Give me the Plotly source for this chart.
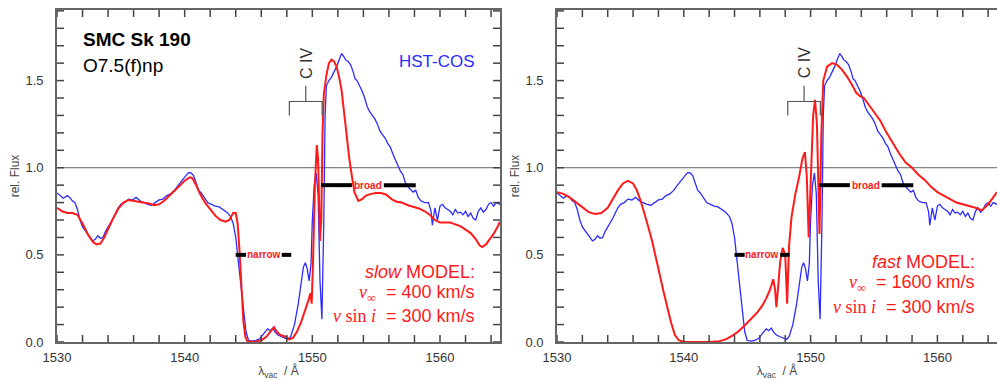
import plotly.graph_objects as go

# ---------------- data ----------------
obs_wl = [1530.0,1530.3,1530.5,1530.8,1531.0,1531.2,1531.4,1531.6,1531.8,1532.0,1532.2,1532.4,1532.6,1532.8,
          1533.0,1533.2,1533.4,1533.6,1533.8,1534.0,1534.2,1534.4,1534.6,1534.8,1535.0,1535.3,1535.6,1535.9,
          1536.2,1536.5,1536.8,1537.1,1537.4,1537.7,1538.0,1538.3,1538.6,1538.9,1539.2,1539.5,1539.8,1540.1,
          1540.3,1540.5,1540.7,1540.9,1541.1,1541.3,1541.5,1541.8,1542.1,1542.4,1542.7,1543.0,1543.3,1543.6,
          1543.8,1544.0,1544.2,1544.4,1544.6,1544.8,1545.0,1545.3,1545.6,1545.9,1546.1,1546.3,1546.5,1546.7,
          1546.9,1547.1,1547.3,1547.6,1547.9,1548.1,1548.3,1548.6,1548.9,1549.1,1549.3,1549.45,1549.6,1549.75,
          1549.9,1550.0,1550.15,1550.3,1550.45,1550.6,1550.75,1550.9,1551.0,1551.1,1551.3,1551.5,1551.7,1551.9,
          1552.1,1552.3,1552.45,1552.6,1552.8,1553.0,1553.2,1553.35,1553.5,1553.7,1553.9,1554.1,1554.3,1554.5,
          1554.7,1554.9,1555.1,1555.3,1555.5,1555.7,1555.9,1556.1,1556.3,1556.5,1556.7,1556.9,1557.1,1557.3,
          1557.5,1557.7,1557.9,1558.1,1558.3,1558.5,1558.8,1559.1,1559.3,1559.4,1559.5,1559.6,1559.8,1560.0,
          1560.2,1560.4,1560.6,1560.8,1561.0,1561.2,1561.4,1561.6,1561.8,1562.0,1562.2,1562.4,1562.6,1562.8,
          1563.0,1563.2,1563.4,1563.6,1563.8,1564.0,1564.2,1564.4,1564.7]
obs_flux = [0.855,0.84,0.825,0.84,0.83,0.81,0.80,0.76,0.70,0.66,0.64,0.62,0.60,0.58,
            0.59,0.61,0.595,0.60,0.635,0.66,0.68,0.71,0.74,0.77,0.79,0.80,0.82,0.815,
            0.83,0.81,0.80,0.79,0.785,0.80,0.815,0.82,0.84,0.85,0.87,0.90,0.93,0.955,
            0.972,0.97,0.955,0.91,0.87,0.855,0.83,0.80,0.79,0.78,0.775,0.76,0.745,0.72,
            0.68,0.60,0.47,0.32,0.18,0.06,0.01,0.005,0.01,0.02,0.04,0.06,0.075,0.065,
            0.08,0.055,0.04,0.03,0.02,0.015,0.03,0.10,0.22,0.33,0.43,0.455,0.42,0.35,
            0.45,0.70,0.90,0.97,0.85,0.35,0.13,0.70,1.30,1.47,1.50,1.52,1.55,1.58,
            1.62,1.655,1.64,1.62,1.61,1.59,1.55,1.51,1.50,1.47,1.44,1.40,1.35,1.32,
            1.30,1.28,1.25,1.21,1.19,1.17,1.14,1.12,1.08,1.045,1.02,0.98,0.96,0.91,
            0.89,0.875,0.86,0.87,0.83,0.81,0.80,0.80,0.75,0.67,0.72,0.77,0.70,0.78,
            0.79,0.77,0.76,0.75,0.73,0.76,0.74,0.745,0.73,0.75,0.72,0.74,0.71,0.70,
            0.75,0.77,0.745,0.76,0.79,0.80,0.78,0.80,0.79]

slow_wl = [1530.0,1530.4,1530.8,1531.2,1531.6,1532.0,1532.4,1532.8,1533.1,1533.4,1533.7,1534.0,1534.4,1534.8,
           1535.2,1535.6,1536.0,1536.4,1536.8,1537.2,1537.6,1538.0,1538.4,1538.8,1539.2,1539.6,1540.0,1540.4,
           1540.6,1540.9,1541.2,1541.6,1542.0,1542.4,1542.8,1543.2,1543.5,1543.8,1544.0,1544.15,1544.3,1544.45,
           1544.6,1544.75,1544.9,1545.5,1546.0,1546.4,1546.8,1547.0,1547.2,1547.5,1547.9,1548.2,1548.5,1548.8,
           1549.1,1549.4,1549.7,1549.85,1549.95,1550.05,1550.2,1550.35,1550.45,1550.6,1550.7,1550.8,1550.9,1551.1,
           1551.3,1551.5,1551.7,1551.9,1552.1,1552.3,1552.5,1552.7,1552.9,1553.1,1553.3,1553.6,1553.9,1554.2,
           1554.6,1555.0,1555.4,1555.8,1556.2,1556.6,1557.0,1557.5,1558.0,1558.4,1558.8,1559.2,1559.6,1560.0,
           1560.4,1560.8,1561.2,1561.6,1562.0,1562.4,1562.8,1563.1,1563.3,1563.6,1563.9,1564.2,1564.5,1564.7]
slow_flux = [0.77,0.75,0.74,0.74,0.73,0.68,0.62,0.575,0.56,0.565,0.60,0.65,0.71,0.765,
             0.80,0.815,0.81,0.805,0.80,0.795,0.785,0.79,0.81,0.84,0.87,0.90,0.925,0.945,
             0.94,0.90,0.85,0.80,0.76,0.725,0.70,0.69,0.70,0.74,0.74,0.68,0.52,0.30,
             0.12,0.03,0.005,0.0,0.01,0.03,0.07,0.085,0.06,0.04,0.03,0.015,0.025,0.06,
             0.11,0.17,0.24,0.28,0.22,0.45,0.90,1.13,1.05,0.58,0.70,1.20,1.42,1.53,
             1.60,1.62,1.61,1.58,1.52,1.44,1.30,1.17,1.05,0.95,0.86,0.81,0.82,0.84,
             0.85,0.855,0.855,0.845,0.82,0.805,0.80,0.785,0.775,0.765,0.75,0.73,0.70,0.685,
             0.685,0.685,0.675,0.665,0.645,0.625,0.59,0.555,0.545,0.56,0.59,0.62,0.66,0.69]

fast_wl = [1530.0,1530.5,1531.0,1531.5,1532.0,1532.5,1533.0,1533.5,1534.0,1534.4,1534.8,1535.2,1535.6,1536.0,
           1536.3,1536.6,1536.9,1537.2,1537.5,1537.8,1538.1,1538.4,1538.7,1539.0,1539.3,1539.6,1540.0,1541.0,
           1542.0,1542.8,1543.3,1543.8,1544.3,1544.8,1545.3,1545.8,1546.2,1546.5,1546.8,1547.05,1547.2,1547.3,
           1547.4,1547.6,1547.8,1548.0,1548.15,1548.3,1548.5,1548.8,1549.1,1549.35,1549.55,1549.7,1549.85,1550.0,
           1550.2,1550.35,1550.5,1550.7,1550.85,1551.0,1551.3,1551.7,1552.1,1552.5,1552.9,1553.3,1553.6,1553.9,
           1554.2,1554.6,1555.0,1555.5,1556.0,1556.5,1557.0,1557.5,1558.0,1558.5,1559.0,1559.5,1560.0,1560.5,
           1561.0,1561.5,1562.0,1562.5,1563.0,1563.5,1564.0,1564.4,1564.7]
fast_flux = [0.86,0.85,0.83,0.80,0.77,0.745,0.735,0.74,0.77,0.82,0.87,0.91,0.925,0.91,
             0.87,0.81,0.74,0.66,0.58,0.48,0.38,0.29,0.20,0.11,0.04,0.01,0.0,0.0,
             0.0,0.005,0.015,0.035,0.06,0.095,0.13,0.17,0.21,0.25,0.30,0.36,0.30,0.20,
             0.28,0.46,0.54,0.50,0.22,0.55,0.72,0.85,0.95,1.05,1.09,0.95,0.60,0.90,
             1.30,1.39,1.25,0.62,1.20,1.50,1.58,1.60,1.59,1.56,1.52,1.47,1.43,1.41,
             1.40,1.36,1.32,1.27,1.20,1.14,1.08,1.03,1.00,0.96,0.93,0.89,0.86,0.84,
             0.82,0.80,0.79,0.78,0.77,0.755,0.79,0.83,0.86]

# tick positions / labels
x_tick_vals = list(range(1530, 1566, 2))
x_tick_text = [str(v) if v % 10 == 0 else "" for v in x_tick_vals]
y_tick_vals = [i / 10 for i in range(0, 20)]
y_tick_text = [f"{v:.1f}" if i % 5 == 0 else "" for i, v in enumerate(y_tick_vals)]

# C IV doublet rest wavelengths (bracket) and label bar segments
civ_lines = [1548.2, 1550.77]
narrow_bars = [(1544.0, 1544.8), (1547.6, 1548.35)]
broad_bars = [(1550.7, 1553.1), (1555.6, 1558.1)]

# ---------------- figure ----------------
RED = "#ff1a1a"
BLUE = "#2b2bff"
TICK = "#444444"
FONT = "Liberation Sans, Arial, sans-serif"
SERIF = "Liberation Serif"
TL = 7  # tick length in px

fig = go.Figure()

panels = [("x", "y", slow_wl, slow_flux), ("x2", "y2", fast_wl, fast_flux)]
for xa, ya, mwl, mfl in panels:
    fig.add_trace(go.Scatter(x=obs_wl, y=obs_flux, mode="lines", xaxis=xa, yaxis=ya,
                             line=dict(color=BLUE, width=1.3), showlegend=False, hoverinfo="skip"))
    fig.add_trace(go.Scatter(x=mwl, y=mfl, mode="lines", xaxis=xa, yaxis=ya,
                             line=dict(color=RED, width=2), showlegend=False, hoverinfo="skip"))
    for a, b in narrow_bars:
        fig.add_trace(go.Scatter(x=[a, b], y=[0.5, 0.5], mode="lines", xaxis=xa, yaxis=ya,
                                 line=dict(color="black", width=4), showlegend=False, hoverinfo="skip"))
    for a, b in broad_bars:
        fig.add_trace(go.Scatter(x=[a, b], y=[0.9, 0.9], mode="lines", xaxis=xa, yaxis=ya,
                                 line=dict(color="black", width=4), showlegend=False, hoverinfo="skip"))
    c = 0.5 * (civ_lines[0] + civ_lines[1])
    fig.add_trace(go.Scatter(x=[civ_lines[0], civ_lines[0], civ_lines[1], civ_lines[1], None, c, c],
                             y=[1.30, 1.38, 1.38, 1.30, None, 1.38, 1.47], mode="lines",
                             xaxis=xa, yaxis=ya, line=dict(color="#555555", width=1.2),
                             showlegend=False, hoverinfo="skip"))

shapes = []
for xa, ya in [("x", "y"), ("x2", "y2")]:
    shapes.append(dict(type="line", xref=xa + " domain", yref=ya, x0=0, x1=1, y0=1.0, y1=1.0,
                       line=dict(color="#666666", width=1), layer="below"))

# inward tick marks drawn from the tick arrays (pixel-sized)
tick_line = dict(color=TICK, width=1.5)
for xa, ya, right_side in [("x", "y", True), ("x2", "y2", False)]:
    for v in x_tick_vals:
        shapes.append(dict(type="line", xref=xa, yref=ya + " domain", ysizemode="pixel", yanchor=0,
                           x0=v, x1=v, y0=0, y1=TL, line=tick_line, layer="above"))
        shapes.append(dict(type="line", xref=xa, yref=ya + " domain", ysizemode="pixel", yanchor=1,
                           x0=v, x1=v, y0=0, y1=-TL, line=tick_line, layer="above"))
    for v in y_tick_vals:
        shapes.append(dict(type="line", xref=xa + " domain", yref=ya, xsizemode="pixel", xanchor=0,
                           x0=0, x1=TL, y0=v, y1=v, line=tick_line, layer="above"))
        if right_side:
            shapes.append(dict(type="line", xref=xa + " domain", yref=ya, xsizemode="pixel", xanchor=1,
                               x0=0, x1=-TL, y0=v, y1=v, line=tick_line, layer="above"))

ann = []
for xa, ya in [("x", "y"), ("x2", "y2")]:
    c = 0.5 * (civ_lines[0] + civ_lines[1])
    ann.append(dict(xref=xa, yref=ya, x=c, y=1.60, text="C IV", textangle=-90, showarrow=False,
                    font=dict(family=FONT, size=16, color="#333333")))
    ann.append(dict(xref=xa, yref=ya, x=1546.2, y=0.5, text="<b>narrow</b>", showarrow=False,
                    font=dict(family=FONT, size=10, color=RED)))
    ann.append(dict(xref=xa, yref=ya, x=1554.35, y=0.9, text="<b>broad</b>", showarrow=False,
                    font=dict(family=FONT, size=10, color=RED)))

ann.append(dict(xref="x domain", yref="y domain", x=0.054, y=0.91, xanchor="left", yanchor="middle",
                text="<b>SMC Sk 190</b>", showarrow=False, font=dict(family=FONT, size=19, color="black")))
ann.append(dict(xref="x domain", yref="y domain", x=0.054, y=0.834, xanchor="left", yanchor="middle",
                text="O7.5(f)np", showarrow=False, font=dict(family=FONT, size=19, color="black")))
ann.append(dict(xref="x domain", yref="y domain", x=0.948, y=0.846, xanchor="right", yanchor="middle",
                text="HST-COS", showarrow=False, font=dict(family=FONT, size=17, color=BLUE)))

vinf = f'<span style="font-family:{SERIF}"><i>v</i><sub>∞</sub></span>'
vsini = f'<span style="font-family:{SERIF}"><i>v</i> sin <i>i</i></span>'

model_txt = [
    ("x domain", "y domain", 0.948, [0.212, 0.145, 0.079], "slow", "400"),
    ("x2 domain", "y2 domain", 0.955, [0.241, 0.175, 0.106], "fast", "1600"),
]
for xr, yr, xx, ys, name, vel in model_txt:
    lines = [f"<i>{name}</i> MODEL:", f"{vinf}  = {vel} km/s", f"{vsini}  = 300 km/s"]
    for yy, t in zip(ys, lines):
        ann.append(dict(xref=xr, yref=yr, x=xx, y=yy, xanchor="right", yanchor="middle", text=t,
                        showarrow=False, font=dict(family=FONT, size=18, color=RED)))

xcommon = dict(range=[1530, 1564.7], tickmode="array", tickvals=x_tick_vals, ticktext=x_tick_text,
               ticks="", showline=True, linecolor="#666666", linewidth=1.6, mirror=True,
               showgrid=False, zeroline=False, ticklabelstandoff=3,
               tickfont=dict(family=FONT, size=13, color="#333333"),
               title=dict(text="λ<sub>vac</sub>  / Å", font=dict(family=FONT, size=12, color="#444444"),
                          standoff=5))
ycommon = dict(range=[0, 1.905], tickmode="array", tickvals=y_tick_vals, ticktext=y_tick_text,
               ticks="", showline=True, linecolor="#666666", linewidth=1.6,
               showgrid=False, zeroline=False, ticklabelstandoff=9,
               tickfont=dict(family=FONT, size=13, color="#333333"),
               title=dict(text="rel. Flux", font=dict(family=FONT, size=12, color="#444444"), standoff=3))

W = 997
L = 57
pw = W - L
fig.update_layout(
    width=W, height=380,
    margin=dict(l=L, r=0, t=10, b=38),
    paper_bgcolor="white", plot_bgcolor="white",
    xaxis=dict(domain=[0, (500 - L) / pw], anchor="y", **xcommon),
    yaxis=dict(domain=[0, 1], anchor="x", mirror=True, **ycommon),
    xaxis2=dict(domain=[(557 - L) / pw, 1], anchor="y2", **xcommon),
    yaxis2=dict(domain=[0, 1], anchor="x2", mirror=False, **ycommon),
    shapes=shapes, annotations=ann,
)

fig.write_html("out.html")
